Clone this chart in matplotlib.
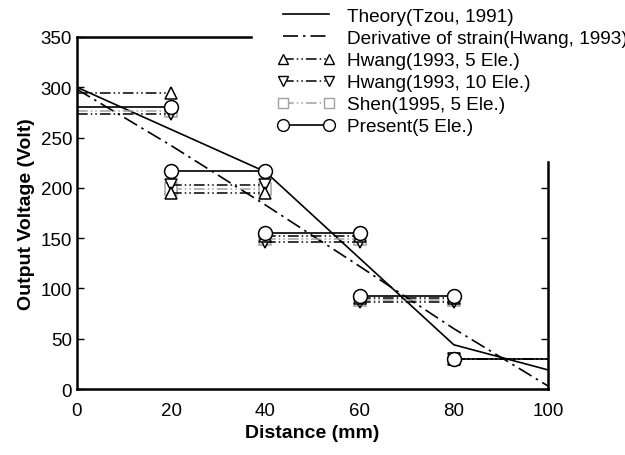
import matplotlib as mpl
mpl.use("Agg")
import matplotlib.pyplot as plt
from matplotlib.lines import Line2D

mpl.rcParams.update({"font.family": ["Liberation Sans", "DejaVu Sans"], "font.size": 13.5})

# element edges (mm)
edges = [0, 20, 40, 60, 80, 100]

# continuous curves
x_theory = [0, 40, 80, 100]
v_theory = [300, 216, 44, 19]
x_deriv = [0, 20, 40, 60, 80, 100]
v_deriv = [298, 242, 183, 122, 60, 3]

# element-wise (constant per element) results, Volt
hwang5 = [294, 195, 152, 90, 30]
hwang10 = [273, 203, 146, 87, 30]
shen5 = [276, 199, 149, 89, 30]
present5 = [280, 217, 155, 92, 30]

DASH_DER = (9, 3, 1.5, 3)
DASH_HW = (7, 2, 1, 2, 1, 2)
GRAY = "#a0a0a0"

fig = plt.figure(figsize=(6.25, 4.56), dpi=100)
ax = fig.add_axes([0.1232, 0.1447, 0.7536, 0.772])

ax.plot(x_theory, v_theory, color="k", lw=1.2)
ax.plot(x_deriv, v_deriv, color="k", lw=1.2, dashes=DASH_DER)


def steps(vals, **kw):
    n = len(vals)
    for i, v in enumerate(vals):
        me = [1] if i == 0 else ([0] if i == n - 1 else [0, 1])
        ax.plot([edges[i], edges[i + 1]], [v, v], markevery=me, mfc="white", mew=1.1, **kw)


steps(shen5, color=GRAY, lw=1.1, dashes=DASH_HW, marker="s", ms=8)
steps(hwang10, color="k", lw=1.1, dashes=DASH_HW, marker="v", ms=9)
steps(hwang5, color="k", lw=1.1, dashes=DASH_HW, marker="^", ms=9)
steps(present5, color="k", lw=1.2, marker="o", ms=10)

ax.set_xlim(0, 100)
ax.set_ylim(0, 350)
ax.set_xticks(edges)
ax.set_yticks(range(0, 351, 50))
ax.tick_params(axis="y", direction="in", length=5, width=1, left=True, right=True, labelsize=13.5)
ax.tick_params(axis="x", length=0, labelsize=13.5, pad=9)
for s in ax.spines.values():
    s.set_linewidth(1.8)

ax.set_xlabel("Distance (mm)", fontsize=14, fontweight="bold", labelpad=4)
ax.set_ylabel("Output Voltage (Volt)", fontsize=14, fontweight="bold", labelpad=4)

handles = [
    Line2D([], [], color="k", lw=1.2),
    Line2D([], [], color="k", lw=1.2, dashes=DASH_DER),
    Line2D([], [], color="k", lw=1.1, dashes=DASH_HW, marker="^", ms=9, mfc="white"),
    Line2D([], [], color="k", lw=1.1, dashes=DASH_HW, marker="v", ms=9, mfc="white"),
    Line2D([], [], color=GRAY, lw=1.1, dashes=DASH_HW, marker="s", ms=8, mfc="white"),
    Line2D([], [], color="k", lw=1.2, marker="o", ms=10, mfc="white"),
]
labels = ["Theory(Tzou, 1991)", "Derivative of strain(Hwang, 1993)",
          "Hwang(1993, 5 Ele.)", "Hwang(1993, 10 Ele.)",
          "Shen(1995, 5 Ele.)", "Present(5 Ele.)"]
leg = ax.legend(handles, labels, loc="upper left", bbox_to_anchor=(253 / 625, 1 + 16 / 456),
                bbox_transform=fig.transFigure, numpoints=2, handlelength=3.0,
                handletextpad=0.65, labelspacing=0.25, borderpad=1.3, borderaxespad=0,
                fontsize=13.7, markerscale=0.85, frameon=True, fancybox=False)
leg.get_frame().set_facecolor("white")
leg.get_frame().set_edgecolor("white")
leg.get_frame().set_alpha(1)

fig.savefig("out.png", dpi=100)
